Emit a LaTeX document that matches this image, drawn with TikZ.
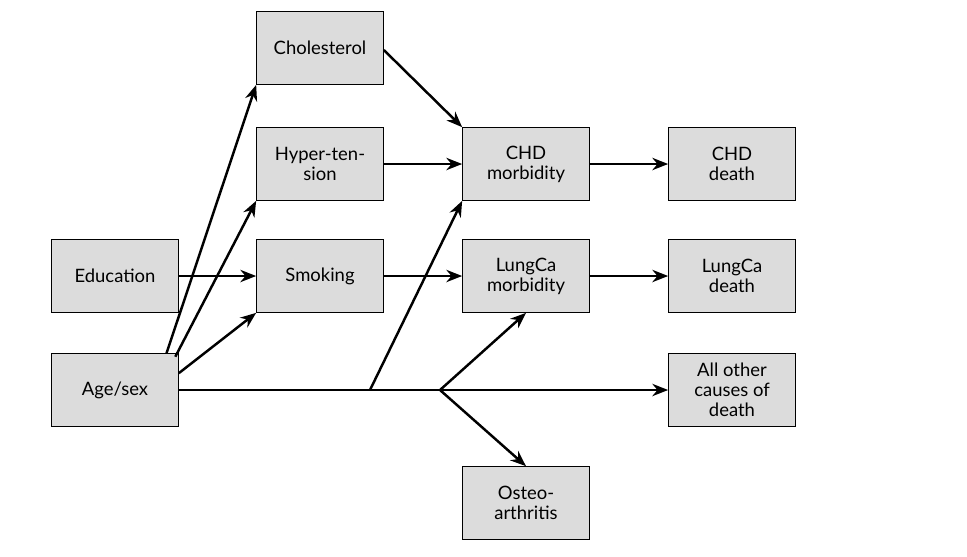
\documentclass[tikz,border=0pt]{standalone}
\usepackage{fontspec}
\setmainfont{Lato}
\usetikzlibrary{arrows.meta,positioning}
\definecolor{boxgray}{RGB}{220,220,220}
\tikzset{
  box/.style={draw=black,fill=boxgray,minimum width=2.54cm,minimum height=1.46cm,
    align=center,inner sep=1pt,font=\fontsize{10.5}{11.5}\selectfont},
  arr/.style={line width=1.4pt,-{Stealth[length=9pt,width=7pt]}},
  ln/.style={line width=1.4pt}
}
\begin{document}
\begin{tikzpicture}[x=0.02cm,y=-0.02cm]
  \useasboundingbox (0,0) rectangle (967,556);
  % left column
  \node[box] (edu) at (115,276) {Education};
  \node[box] (age) at (115,390) {Age/sex};
  % risk factors
  \node[box] (chol) at (320,48) {Cholesterol};
  \node[box] (hyp) at (320,164) {Hyper-ten-\\sion};
  \node[box] (smok) at (320,276) {Smoking};
  % morbidity
  \node[box] (chdm) at (526,164) {CHD\\morbidity};
  \node[box] (lcm) at (526,276) {LungCa\\morbidity};
  \node[box] (ost) at (526,503) {Osteo-\\arthritis};
  % deaths
  \node[box] (chdd) at (732,164) {CHD\\death};
  \node[box] (lcd) at (732,276) {LungCa\\death};
  \node[box] (oth) at (732,390) {All other\\causes of\\death};
  % junctions on the age/sex line
  \coordinate (j1) at (370,390);
  \coordinate (j2) at (440,390);

  \draw[arr] (edu) -- (smok);
  \draw[arr] (smok) -- (lcm);
  \draw[arr] (hyp) -- (chdm);
  \draw[arr] (chdm) -- (chdd);
  \draw[arr] (lcm) -- (lcd);
  \draw[arr] (chol.east) ++(0,2) -- (chdm.north west);
  \draw[arr] ([xshift=-7pt]age.north east) -- (chol.south west);
  \draw[arr] ([xshift=-2pt,yshift=-2pt]age.north east) -- (hyp.south west);
  \draw[arr] ([yshift=-0.4cm]age.north east) -- (smok.south west);
  \draw[arr] (age) -- (oth);
  \draw[arr] (j1) -- (chdm.south west);
  \draw[arr] (j2) -- (lcm.south);
  \draw[arr] (j2) -- (ost.north);
\end{tikzpicture}
\end{document}
